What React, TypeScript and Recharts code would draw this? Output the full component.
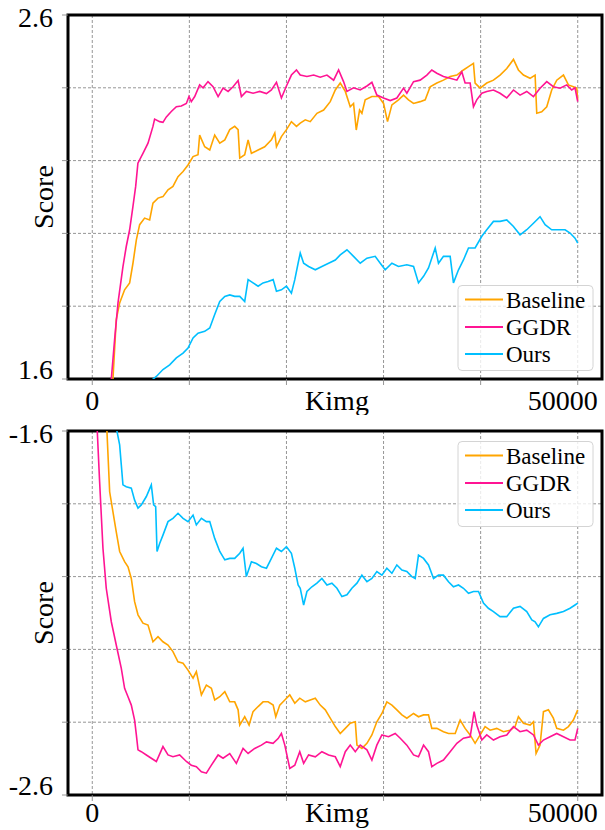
import React from 'react';
import { LineChart, Line, XAxis, YAxis, CartesianGrid, ReferenceArea, Label } from 'recharts';

type Pt = [number, number];

const seriesNames = ['Baseline', 'GGDR', 'Ours'];
const seriesColors = ['#FFA500', '#FF1493', '#00BFFF'];
const xTicks = [0, 10000, 20000, 30000, 40000, 50000];
const xDomain: [number, number] = [-2500, 52500];
const xAxisTitle = 'Kimg';
const yAxisTitle = 'Score';
const topYTicks = [1.6, 1.8, 2.0, 2.2, 2.4, 2.6];
const bottomYTicks = [-2.6, -2.4, -2.2, -2.0, -1.8, -1.6];

// ---------- top panel ----------
const topBaseline: Pt[] = [[0,1.1],[1000,1.33],[2130,1.6],[2470,1.763],[2820,1.809],[3330,1.845],[3850,1.864],[4190,1.918],[4540,1.982],[4880,2.024],[5390,2.042],[5910,2.037],[6250,2.083],[6770,2.097],[7280,2.101],[7800,2.12],[8310,2.129],[8830,2.156],[9350,2.17],[9860,2.188],[10380,2.211],[10890,2.216],[11060,2.27],[11580,2.238],[12100,2.229],[12610,2.27],[13130,2.248],[13650,2.257],[14160,2.285],[14670,2.294],[15020,2.285],[15190,2.207],[15700,2.216],[16050,2.257],[16390,2.22],[17080,2.229],[17760,2.238],[18450,2.257],[18800,2.276],[18970,2.238],[19480,2.266],[20000,2.285],[20510,2.307],[21030,2.294],[21420,2.303],[21940,2.312],[22450,2.307],[23140,2.33],[23830,2.339],[24510,2.362],[25030,2.394],[25540,2.413],[26060,2.39],[26570,2.348],[26910,2.357],[27190,2.284],[27530,2.339],[27770,2.33],[28110,2.367],[28800,2.376],[29490,2.376],[30000,2.357],[30410,2.307],[30860,2.353],[31540,2.367],[32060,2.38],[32570,2.367],[33090,2.357],[33770,2.362],[34290,2.367],[34800,2.403],[35490,2.413],[36170,2.421],[36860,2.431],[37550,2.435],[38230,2.449],[38750,2.458],[39260,2.467],[39430,2.413],[39950,2.399],[40630,2.413],[41320,2.421],[42000,2.435],[42690,2.453],[43380,2.478],[43890,2.449],[44410,2.435],[45090,2.426],[45610,2.435],[45780,2.33],[46290,2.334],[46810,2.348],[47320,2.394],[47840,2.421],[48530,2.435],[49040,2.408],[49550,2.403],[49900,2.399],[50000,2.367]];

const topGGDR: Pt[] = [[0,1.15],[1000,1.38],[1960,1.6],[2300,1.708],[2650,1.809],[3160,1.909],[3500,1.964],[3850,2.01],[4190,2.074],[4470,2.129],[4700,2.193],[5220,2.22],[5740,2.248],[6250,2.294],[6420,2.314],[6940,2.307],[7280,2.305],[7630,2.32],[8140,2.335],[8660,2.348],[9170,2.35],[9690,2.357],[9960,2.376],[10200,2.362],[10550,2.376],[11060,2.408],[11410,2.4],[11920,2.417],[12440,2.403],[12960,2.376],[13470,2.399],[13990,2.39],[14500,2.403],[15020,2.42],[15360,2.376],[15870,2.39],[16560,2.385],[17250,2.39],[17940,2.384],[18450,2.394],[18970,2.415],[19480,2.372],[20000,2.405],[20510,2.435],[21030,2.449],[21420,2.435],[22110,2.431],[22800,2.435],[23480,2.429],[24170,2.435],[24860,2.421],[25370,2.449],[25880,2.417],[26230,2.39],[26910,2.4],[27600,2.394],[28290,2.405],[28800,2.415],[29310,2.38],[30000,2.372],[30690,2.365],[31370,2.372],[32060,2.399],[32400,2.385],[33090,2.417],[33770,2.421],[34460,2.435],[34970,2.449],[35490,2.44],[36170,2.431],[36860,2.426],[37550,2.421],[38060,2.444],[38400,2.413],[38920,2.413],[39260,2.348],[39600,2.367],[40120,2.385],[40630,2.39],[41320,2.394],[42000,2.385],[42690,2.372],[43380,2.394],[44060,2.38],[44750,2.39],[45440,2.376],[46120,2.399],[46810,2.417],[47490,2.403],[48180,2.399],[48870,2.408],[49380,2.394],[49720,2.4],[50000,2.362]];

const topOurs: Pt[] = [[0,1.45],[3000,1.53],[6600,1.607],[7280,1.626],[7970,1.639],[8660,1.658],[9350,1.671],[9860,1.685],[10380,1.713],[10890,1.726],[11580,1.731],[12100,1.74],[12610,1.777],[13130,1.813],[13650,1.827],[14160,1.831],[14670,1.827],[15190,1.827],[15700,1.813],[16050,1.873],[16560,1.864],[17080,1.855],[17590,1.864],[18110,1.868],[18630,1.873],[18970,1.841],[19480,1.845],[20000,1.855],[20510,1.836],[20860,1.873],[21200,1.918],[21420,1.946],[21770,1.918],[22280,1.909],[22970,1.9],[23650,1.909],[24340,1.918],[25030,1.927],[25540,1.941],[26230,1.955],[26910,1.937],[27600,1.918],[28290,1.932],[29140,1.937],[29660,1.918],[30170,1.9],[30860,1.918],[31540,1.909],[32400,1.914],[33090,1.909],[33600,1.864],[34120,1.882],[34630,1.905],[35320,1.96],[35660,1.918],[36170,1.937],[36860,1.937],[37200,1.864],[37720,1.9],[38230,1.927],[38750,1.96],[39430,1.96],[40120,1.992],[40630,2.01],[41320,2.033],[42000,2.033],[42690,2.037],[43380,2.019],[44060,1.996],[44750,2.01],[45440,2.028],[46120,2.046],[46640,2.024],[47320,2.01],[48010,2.01],[48700,2.01],[49210,2.001],[49720,1.987],[50000,1.973]];

// ---------- bottom panel ----------
const bottomBaseline: Pt[] = [[0,-1.0],[1000,-1.35],[1510,-1.6],[1790,-1.767],[2130,-1.822],[2470,-1.877],[2820,-1.931],[3330,-1.959],[3680,-1.973],[4020,-2.005],[4360,-2.069],[4710,-2.105],[5220,-2.128],[5740,-2.133],[6250,-2.179],[6770,-2.165],[7280,-2.179],[7800,-2.188],[8310,-2.206],[8830,-2.234],[9350,-2.238],[9860,-2.257],[10380,-2.279],[10720,-2.261],[11240,-2.325],[11750,-2.298],[12270,-2.307],[12610,-2.339],[13130,-2.33],[13650,-2.316],[14160,-2.344],[14670,-2.344],[15020,-2.366],[15190,-2.408],[15700,-2.385],[16150,-2.408],[16560,-2.371],[17080,-2.357],[17590,-2.344],[18110,-2.344],[18630,-2.353],[18900,-2.385],[19310,-2.353],[19830,-2.339],[20340,-2.325],[20860,-2.348],[21370,-2.334],[21940,-2.344],[22450,-2.339],[22970,-2.334],[23480,-2.353],[24000,-2.366],[24510,-2.389],[25030,-2.412],[25540,-2.431],[26060,-2.417],[26570,-2.403],[27090,-2.399],[27260,-2.463],[27770,-2.472],[28290,-2.458],[28800,-2.435],[29310,-2.399],[29830,-2.376],[30340,-2.344],[30860,-2.353],[31370,-2.366],[31890,-2.38],[32400,-2.389],[33090,-2.376],[33600,-2.385],[34120,-2.38],[34630,-2.38],[34970,-2.417],[35490,-2.417],[36170,-2.426],[36690,-2.431],[37380,-2.431],[37890,-2.394],[38400,-2.417],[38920,-2.435],[39430,-2.458],[39950,-2.435],[40460,-2.412],[40980,-2.422],[41660,-2.417],[42350,-2.426],[43030,-2.422],[43550,-2.412],[43890,-2.385],[44410,-2.403],[45090,-2.408],[45440,-2.399],[45710,-2.486],[46120,-2.463],[46470,-2.371],[46980,-2.366],[47490,-2.389],[47840,-2.417],[48530,-2.422],[49040,-2.412],[49550,-2.394],[50000,-2.366]];

const bottomGGDR: Pt[] = [[0,-1.3],[515,-1.6],[756,-1.739],[1100,-1.922],[1440,-2.032],[1960,-2.124],[2470,-2.188],[2990,-2.252],[3330,-2.307],[3680,-2.33],[4020,-2.353],[4360,-2.394],[4540,-2.435],[4710,-2.476],[5050,-2.481],[5570,-2.49],[6080,-2.499],[6600,-2.508],[7280,-2.467],[7800,-2.49],[8310,-2.495],[9000,-2.49],[9690,-2.508],[10200,-2.518],[10720,-2.522],[11240,-2.536],[11750,-2.54],[12270,-2.518],[12960,-2.49],[13470,-2.499],[14160,-2.486],[14840,-2.513],[15530,-2.472],[16050,-2.486],[16730,-2.472],[17420,-2.463],[17940,-2.454],[18620,-2.458],[19140,-2.445],[19480,-2.431],[19830,-2.463],[20340,-2.527],[20860,-2.518],[21370,-2.481],[21770,-2.513],[22280,-2.49],[22970,-2.495],[23650,-2.481],[24340,-2.49],[25030,-2.495],[25540,-2.522],[26060,-2.481],[26570,-2.463],[27090,-2.481],[27600,-2.463],[28290,-2.476],[28800,-2.504],[29310,-2.463],[29830,-2.435],[30510,-2.44],[31200,-2.431],[31720,-2.444],[32400,-2.463],[33090,-2.49],[33600,-2.495],[34120,-2.463],[34630,-2.481],[34970,-2.522],[35490,-2.513],[36170,-2.504],[36860,-2.481],[37550,-2.458],[38230,-2.444],[38920,-2.44],[39330,-2.371],[39600,-2.408],[40120,-2.449],[40630,-2.435],[41320,-2.449],[42000,-2.44],[42690,-2.435],[43380,-2.412],[44060,-2.426],[44750,-2.422],[45440,-2.435],[45950,-2.463],[46470,-2.449],[47150,-2.44],[47840,-2.431],[48530,-2.44],[49210,-2.449],[49720,-2.449],[50000,-2.417]];

const bottomOurs: Pt[] = [[0,-1.3],[1500,-1.48],[2540,-1.6],[2820,-1.638],[2990,-1.693],[3160,-1.748],[3500,-1.753],[4020,-1.757],[4360,-1.79],[4710,-1.812],[5050,-1.803],[5570,-1.78],[6080,-1.748],[6320,-1.803],[6530,-1.808],[6670,-1.931],[6940,-1.909],[7280,-1.886],[7800,-1.849],[8310,-1.84],[8830,-1.826],[9350,-1.84],[9860,-1.849],[10380,-1.831],[10720,-1.858],[11240,-1.84],[11750,-1.849],[12100,-1.849],[12610,-1.895],[13130,-1.931],[13650,-1.954],[14160,-1.95],[14670,-1.95],[15190,-1.936],[15530,-1.922],[15870,-2.0],[16390,-1.959],[16900,-1.964],[17420,-1.973],[17940,-1.977],[18450,-1.95],[18970,-1.922],[19480,-1.931],[20000,-1.918],[20510,-1.936],[20860,-1.977],[21200,-2.023],[21420,-2.032],[21770,-2.078],[22110,-2.041],[22620,-2.028],[23140,-2.018],[23650,-2.005],[24170,-2.023],[24680,-2.018],[25200,-2.032],[25710,-2.055],[26230,-2.05],[26740,-2.032],[27260,-2.018],[27770,-1.996],[28290,-2.014],[28800,-2.005],[29310,-1.986],[29830,-1.996],[30340,-1.977],[30860,-1.991],[31370,-1.968],[31890,-1.982],[32400,-1.986],[32910,-2.0],[33260,-2.005],[33600,-1.941],[34120,-1.95],[34630,-1.968],[35150,-2.005],[35660,-1.996],[36170,-1.996],[36690,-2.014],[37200,-2.028],[37720,-2.023],[38230,-2.032],[38750,-2.046],[39260,-2.041],[39780,-2.041],[40290,-2.073],[40800,-2.087],[41320,-2.096],[42000,-2.11],[42690,-2.11],[43380,-2.087],[44060,-2.082],[44750,-2.096],[45270,-2.119],[45610,-2.124],[45950,-2.138],[46470,-2.115],[47150,-2.105],[47840,-2.101],[48530,-2.096],[49210,-2.087],[49720,-2.078],[50000,-2.073]];

const FONT = 'Liberation Serif, Times New Roman, DejaVu Serif, serif';
const toPts = (arr: Pt[]) => arr.map(([x, y]) => ({ x, y }));

const makeYTick = (yMin: number, yMax: number) => (props: any) => {
  const { x, y, payload } = props;
  const v = payload.value;
  if (Math.abs(v - yMax) < 1e-9) {
    return (
      <text x={x} y={y + 12} textAnchor="end" fontSize={28} fontFamily={FONT} fill="#000">{v.toFixed(1)}</text>
    );
  }
  if (Math.abs(v - yMin) < 1e-9) {
    return (
      <text x={x} y={y} textAnchor="end" fontSize={28} fontFamily={FONT} fill="#000">{v.toFixed(1)}</text>
    );
  }
  return <g />;
};

const makeXTick = (dy: number) => (props: any) => {
  const { x, y, payload } = props;
  const v = payload.value;
  if (v === 0) {
    return <text x={x} y={y + dy} textAnchor="middle" fontSize={28} fontFamily={FONT} fill="#000">{String(v)}</text>;
  }
  if (v === 50000) {
    return <text x={x + 20} y={y + dy} textAnchor="end" fontSize={28} fontFamily={FONT} fill="#000">{String(v)}</text>;
  }
  return <g />;
};

const makeKimgLabel = (dy: number) => (props: any) => {
  const vb = props.viewBox || { x: 68, y: 379, width: 534, height: 36 };
  return (
    <text x={vb.x + vb.width / 2 + 2} y={vb.y + dy} textAnchor="middle" fontSize={28} fontFamily={FONT} fill="#000">{xAxisTitle}</text>
  );
};

const ScoreLabel = (props: any) => {
  const vb = props.viewBox || { x: 0, y: 15, width: 68, height: 364 };
  const cx = 53;
  const cy = vb.y + vb.height / 2;
  return (
    <text x={0} y={0} transform={`translate(${cx},${cy}) rotate(-90)`} textAnchor="middle" fontSize={28} fontFamily={FONT} fill="#000">{yAxisTitle}</text>
  );
};

const legendRows = [14.5, 42, 69];

function LegendBox({ top }: { top: number }) {
  return (
    <svg style={{ position: 'absolute', left: 457, top, overflow: 'visible' }} width={137} height={88}>
      <rect x={1} y={0.5} width={135} height={85} rx={4} ry={4} fill="rgba(255,255,255,0.8)" stroke="#d4d4d4" strokeWidth={1} />
      {seriesNames.map((n, i) => (
        <g key={n}>
          <line x1={8} x2={46} y1={legendRows[i]} y2={legendRows[i]} stroke={seriesColors[i]} strokeWidth={2} />
          <text x={49} y={legendRows[i] + 8} fontSize={23} fontFamily={FONT} fill="#000">{n}</text>
        </g>
      ))}
    </svg>
  );
}

function Panel({ yTicks, series, plotTop, legendTop, labelDy }: { yTicks: number[]; series: Pt[][]; plotTop: number; legendTop: number; labelDy: number }) {
  const yMin = yTicks[0];
  const yMax = yTicks[yTicks.length - 1];
  const plotH = 364;
  return (
    <div style={{ position: 'relative', width: 605, height: 415 }}>
      <LineChart width={605} height={415} margin={{ top: plotTop, right: 3, left: 0, bottom: 0 }}>
        <CartesianGrid stroke="#8a8a8a" strokeDasharray="3 2" strokeWidth={0.9} />
        <XAxis
          dataKey="x"
          type="number"
          domain={xDomain}
          ticks={xTicks}
          interval={0}
          allowDataOverflow
          height={415 - plotTop - plotH}
          tick={makeXTick(labelDy - 6)}
          tickSize={6}
          tickMargin={0}
          tickLine={{ stroke: '#8a8a8a', strokeWidth: 0.9 }}
          axisLine={false}
        >
          <Label content={makeKimgLabel(labelDy)} />
        </XAxis>
        <YAxis
          type="number"
          domain={[yMin, yMax]}
          ticks={yTicks}
          interval={0}
          allowDataOverflow
          width={68}
          tick={makeYTick(yMin, yMax)}
          tickSize={6}
          tickMargin={9}
          tickLine={{ stroke: '#8a8a8a', strokeWidth: 0.9 }}
          axisLine={false}
        >
          <Label content={ScoreLabel} />
        </YAxis>
        {series.map((d, i) => (
          <Line
            key={seriesNames[i]}
            name={seriesNames[i]}
            data={toPts(d)}
            dataKey="y"
            type="linear"
            stroke={seriesColors[i]}
            strokeWidth={1.6}
            dot={false}
            activeDot={false}
            isAnimationActive={false}
          />
        ))}
        <ReferenceArea x1={xDomain[0]} x2={xDomain[1]} y1={yMin} y2={yMax} fill="none" fillOpacity={0} stroke="#000" strokeWidth={3} ifOverflow="visible" />
      </LineChart>
      <LegendBox top={legendTop} />
    </div>
  );
}

export default function App() {
  return (
    <div style={{ position: 'absolute', left: 0, top: 0, width: 605, height: 830, background: '#fff', overflow: 'hidden' }}>
      <Panel yTicks={topYTicks} series={[topBaseline, topGGDR, topOurs]} plotTop={15} legendTop={285} labelDy={31} />
      <Panel yTicks={bottomYTicks} series={[bottomBaseline, bottomGGDR, bottomOurs]} plotTop={16} legendTop={26} labelDy={27} />
    </div>
  );
}
